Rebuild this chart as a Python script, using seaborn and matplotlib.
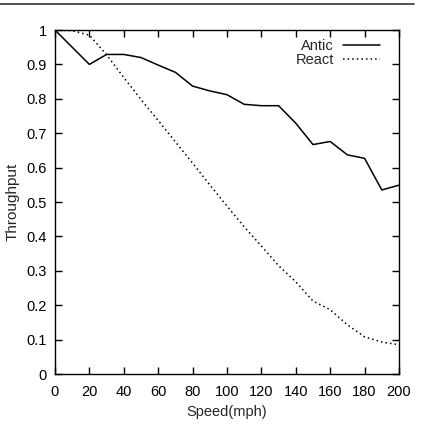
import numpy as np
import pandas as pd
import seaborn as sns
import matplotlib
matplotlib.use("Agg")
import matplotlib.pyplot as plt
from matplotlib.ticker import MultipleLocator, FormatStrFormatter

speed = [0, 10, 20, 30, 40, 50, 60, 70, 80, 90, 100,
         110, 120, 130, 140, 150, 160, 170, 180, 190, 200]
antic = [1.0, 0.95, 0.90, 0.929, 0.929, 0.92, 0.898, 0.877, 0.837, 0.823, 0.812,
         0.784, 0.780, 0.780, 0.729, 0.667, 0.676, 0.637, 0.627, 0.535, 0.549]
react = [1.0, 0.998, 0.985, 0.928, 0.862, 0.798, 0.737, 0.675, 0.613, 0.55, 0.488,
         0.428, 0.372, 0.315, 0.268, 0.212, 0.187, 0.143, 0.108, 0.093, 0.085]

sns.set_style("ticks")
plt.rcParams['font.family'] = ['Liberation Sans', 'DejaVu Sans']
fs = 10.5

fig = plt.figure(figsize=(4.22, 4.30), dpi=100)
ax = fig.add_axes([0.1303, 0.1302, 0.8152, 0.8])

sns.lineplot(x=speed, y=antic, ax=ax, color='black', lw=1.1, label='Antic')
sns.lineplot(x=speed, y=react, ax=ax, color='black', lw=1.1,
             linestyle=(0, (1, 2.0)), label='React')

ax.set_xlim(0, 200)
ax.set_ylim(0, 1)
ax.xaxis.set_major_locator(MultipleLocator(20))
ax.yaxis.set_major_locator(MultipleLocator(0.1))
ax.yaxis.set_major_formatter(FormatStrFormatter('%g'))
ax.tick_params(direction='in', top=True, right=True, length=5, width=1,
               labelsize=fs, colors='black')
ax.tick_params(axis='y', pad=6)
ax.tick_params(axis='x', pad=8)
for s in ax.spines.values():
  s.set_linewidth(1.0)
  s.set_color('black')

ax.set_xlabel("Speed(mph)", fontsize=fs, labelpad=4)
ax.set_ylabel("Throughput", fontsize=11, labelpad=5)

ax.legend(loc='upper right', bbox_to_anchor=(0.983, 1.012), frameon=False,
          markerfirst=False, handlelength=2.55, handletextpad=0.6,
          labelspacing=0.0, fontsize=fs)

# page rule at the top
fig.add_artist(plt.Line2D([0, 0.98], [0.99, 0.99], color='#333333', lw=1.2,
                          transform=fig.transFigure))

fig.savefig("out.png", dpi=100)
